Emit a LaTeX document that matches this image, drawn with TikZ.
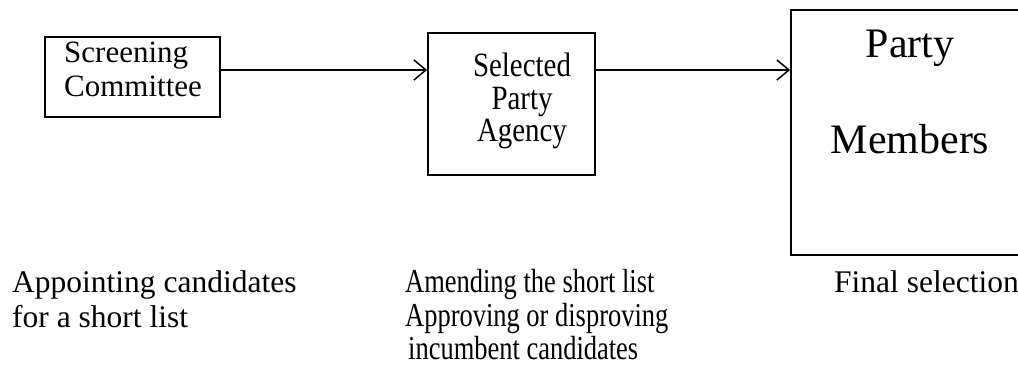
\documentclass[tikz,border=0pt]{standalone}
\usepackage{fontspec}
\setmainfont{Liberation Serif}
\usetikzlibrary{arrows.meta}
\begin{document}
\begin{tikzpicture}[x=1pt,y=-1pt,
  boxstyle/.style={draw, line width=1.8pt, inner sep=0pt, rectangle},
  flow/.style={line width=1.5pt, -{Straight Barb[length=12pt,width=20pt,line width=1.5pt]}},
  txt/.style={anchor=base west, inner sep=0pt},
  txtc/.style={anchor=base, inner sep=0pt},
  fa/.style={font=\fontsize{31}{36}\selectfont},
  fb/.style={font=\fontsize{34}{38}\selectfont},
  fc/.style={font=\fontsize{42}{48}\selectfont},
  fd/.style={font=\fontsize{31.5}{36}\selectfont},
  fe/.style={font=\fontsize{33.5}{36}\selectfont}
]
\useasboundingbox (0,0) rectangle (1018,371);
\coordinate (ay) at (0,70);
% boxes
\node[boxstyle, minimum width=175pt, minimum height=80pt] (b1) at (132.5,77) {};
\node[boxstyle, minimum width=167pt, minimum height=142pt] (b2) at (511.5,104) {};
\node[boxstyle, minimum width=240pt, minimum height=245pt] (b3) at (911,132.5) {};
% box texts
\node[txt, fa] (s1) at (64,63) {Screening};
\node[txt, fa] (s2) at (64,97) {Committee};
\node[txtc, fb] (p1) at (522,77) {\scalebox{0.85}[1]{Selected}};
\node[txtc, fb] (p2) at (522,110) {\scalebox{0.85}[1]{Party}};
\node[txtc, fb] (p3) at (522,142) {\scalebox{0.85}[1]{Agency}};
\node[txtc, fc] (m1) at (910,58) {Party};
\node[txtc, fc] (m2) at (910,154) {Members};
% connectors
\draw[flow] (b1.east |- ay) -- (b2.west |- ay);
\draw[flow] (b2.east |- ay) -- (b3.west |- ay);
% captions
\node[txt, fd] (c1) at (12,293) {Appointing candidates};
\node[txt, fd] (c2) at (12,328) {for a short list};
\node[txt, fe] (d1) at (405,293) {\scalebox{0.79}[1]{Amending the short list}};
\node[txt, fe] (d2) at (405,327) {\scalebox{0.79}[1]{Approving or disproving}};
\node[txt, fe] (d3) at (408,360) {\scalebox{0.79}[1]{incumbent candidates}};
\node[txt, fd] (e1) at (834,293) {Final selection};
\end{tikzpicture}
\end{document}
